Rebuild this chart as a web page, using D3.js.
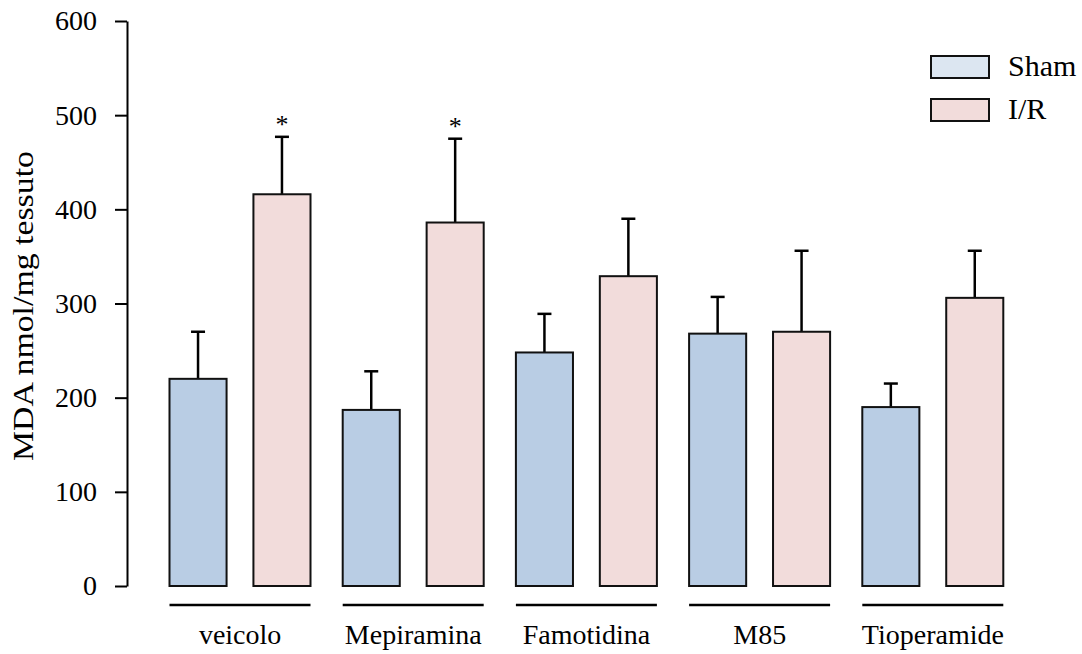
<!DOCTYPE html>
<html>
<head>
<meta charset="utf-8">
<script src="https://cdn.jsdelivr.net/npm/d3@7"></script>
<style>
  body { margin: 0; background: #fff; }
  text { font-family: "Liberation Serif", "Times New Roman", serif; fill: #000; }
</style>
</head>
<body>
<div id="chart"></div>
<script>
// data
var groups = ["veicolo", "Mepiramina", "Famotidina", "M85", "Tioperamide"];
var series = ["Sham", "I/R"];
var shamMean = [220, 187, 248, 268, 190];
var shamErr  = [50, 41, 41, 39, 25];
var irMean   = [416, 386, 329, 270, 306];
var irErr    = [61, 89, 61, 86, 50];
var signif   = [true, true, false, false, false];
var yTicks   = [0, 100, 200, 300, 400, 500, 600];

var W = 1082, H = 654;
var fills = {"Sham": "#b9cde4", "I/R": "#f2dcdb"};
var legendFills = {"Sham": "#dce6f1", "I/R": "#f2dcdb"};

var svg = d3.select("#chart").append("svg")
  .attr("width", W).attr("height", H);

var x = d3.scaleBand().domain(groups).range([153.5, 1019.5]);
var xs = d3.scaleBand().domain(series).range([16, 157]).paddingInner(0.32);
var y = d3.scaleLinear().domain([0, 600]).range([586, 21]);

// one row per bar
var rows = [];
groups.forEach(function(g, i) {
  rows.push({group: g, s: "Sham", mean: shamMean[i], err: shamErr[i], star: false});
  rows.push({group: g, s: "I/R", mean: irMean[i], err: irErr[i], star: signif[i]});
});

// y axis
var yAxis = d3.axisLeft(y).tickValues(yTicks).tickSize(12).tickSizeOuter(0).tickPadding(18);
var ya = svg.append("g").attr("transform", "translate(127,0)").call(yAxis);
ya.selectAll("path, line").attr("stroke", "#000").attr("stroke-width", 2);
ya.selectAll("text")
  .style("font-family", "Liberation Serif")
  .style("font-size", "28px")
  .attr("fill", "#000");

svg.append("text")
  .attr("transform", "translate(33,306) rotate(-90)")
  .attr("text-anchor", "middle")
  .style("font-size", "30px")
  .attr("textLength", 310)
  .attr("lengthAdjust", "spacingAndGlyphs")
  .text("MDA nmol/mg tessuto");

// error bars
var eb = svg.append("g");
rows.forEach(function(d) {
  var cx = x(d.group) + xs(d.s) + xs.bandwidth() / 2;
  var top = y(d.mean + d.err);
  eb.append("line")
    .attr("x1", cx).attr("x2", cx)
    .attr("y1", y(d.mean)).attr("y2", top)
    .attr("stroke", "#000").attr("stroke-width", 2.5);
  eb.append("line")
    .attr("x1", cx - 7).attr("x2", cx + 7)
    .attr("y1", top).attr("y2", top)
    .attr("stroke", "#000").attr("stroke-width", 2.5);
  if (d.star) {
    eb.append("text")
      .attr("x", cx).attr("y", top - 4)
      .attr("text-anchor", "middle")
      .style("font-size", "26px")
      .text("*");
  }
});

// bars
svg.append("g").selectAll("rect")
  .data(rows).enter()
  .append("rect")
  .attr("x", function(d) { return x(d.group) + xs(d.s); })
  .attr("y", function(d) { return y(d.mean); })
  .attr("width", xs.bandwidth())
  .attr("height", function(d) { return y(0) - y(d.mean); })
  .attr("fill", function(d) { return fills[d.s]; })
  .attr("stroke", "#111").attr("stroke-width", 2);

// group underlines + labels
var gl = svg.append("g").selectAll("g")
  .data(groups).enter().append("g")
  .attr("transform", function(d) { return "translate(" + x(d) + ",0)"; });
gl.append("line")
  .attr("x1", xs("Sham")).attr("x2", xs("I/R") + xs.bandwidth())
  .attr("y1", 605).attr("y2", 605)
  .attr("stroke", "#000").attr("stroke-width", 2.5);
gl.append("text")
  .attr("x", x.bandwidth() / 2).attr("y", 644)
  .attr("text-anchor", "middle")
  .style("font-size", "28px")
  .text(function(d) { return d; });

// legend
var lg = svg.append("g").selectAll("g")
  .data(series).enter().append("g")
  .attr("transform", function(d, i) { return "translate(931," + (56 + i * 43) + ")"; });
lg.append("rect")
  .attr("width", 58).attr("height", 22)
  .attr("fill", function(d) { return legendFills[d]; })
  .attr("stroke", "#111").attr("stroke-width", 2);
lg.append("text")
  .attr("x", 77).attr("y", 20)
  .style("font-size", "30px")
  .text(function(d) { return d; });
</script>
</body>
</html>
